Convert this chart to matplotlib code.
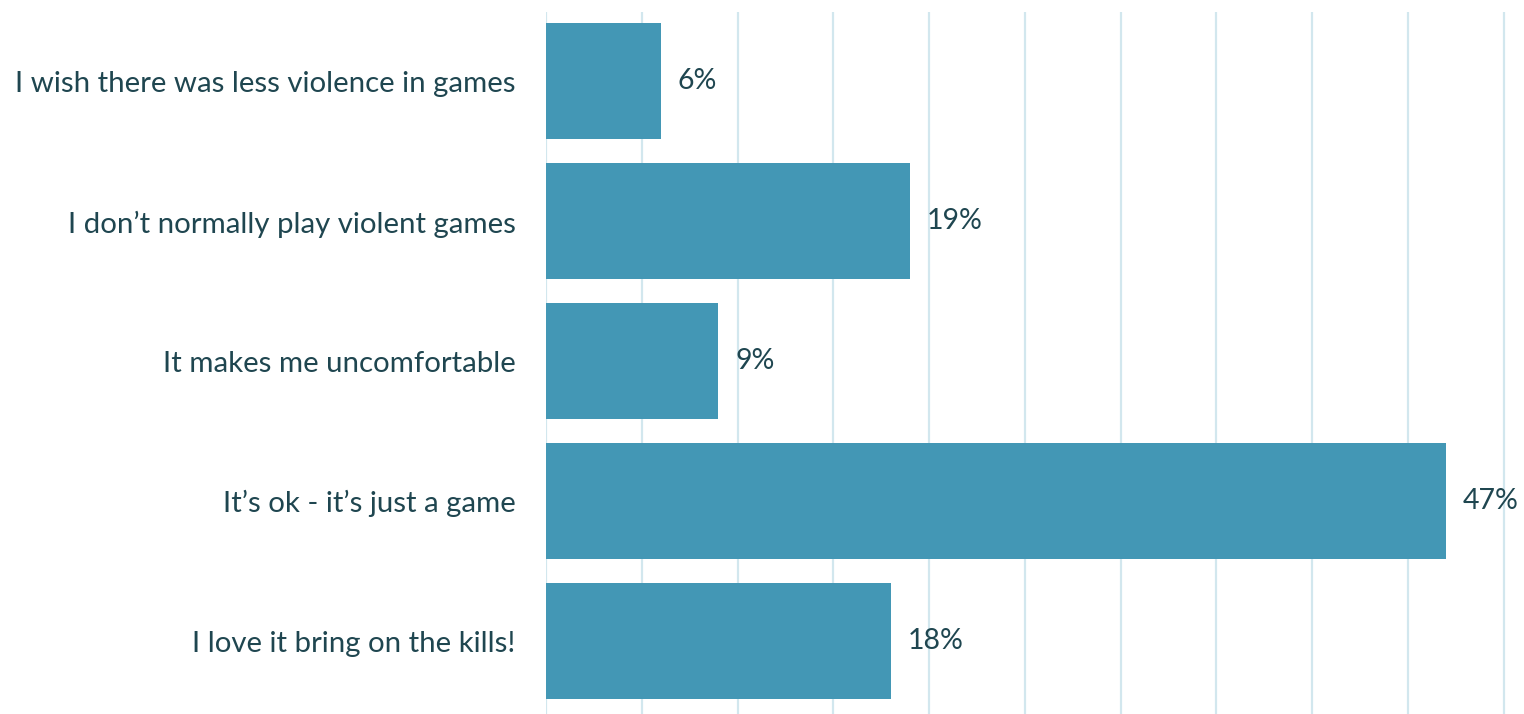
import matplotlib
matplotlib.use("Agg")
import matplotlib.pyplot as plt

# Survey answers, top to bottom
answers = [
    "I wish there was less violence in games",
    "I don\u2019t normally play violent games",
    "It makes me uncomfortable",
    "It\u2019s ok - it\u2019s just a game",
    "I love it bring on the kills!",
]
shares = [6, 19, 9, 47, 18]

bar_color = "#4397b5"
text_color = "#1f4650"
grid_color = "#d2e7ee"

plt.rcParams["font.family"] = ["Lato", "DejaVu Sans"]

fig = plt.figure(figsize=(15.24, 7.14), dpi=100)
ax = fig.add_axes([546 / 1524, 0.0, 1 - 546 / 1524, 1 - 12 / 714])

pos = list(range(len(answers)))
ax.barh(pos, shares, height=0.83, color=bar_color, zorder=3)

for y, v in zip(pos, shares):
    ax.annotate("%d%%" % v, xy=(v, y), xytext=(12, 0), textcoords="offset points",
                ha="left", va="center", fontsize=20.5, color=text_color)

ax.set_xlim(0, 51.07)
ax.set_ylim(4.52, -0.496)
ax.set_xticks(range(0, 51, 5))
ax.set_xticklabels([])
ax.grid(axis="x", color=grid_color, linewidth=1.6, zorder=0)
ax.tick_params(axis="x", length=0)

ax.set_yticks(pos)
ax.set_yticklabels(answers, fontsize=21.2, color=text_color)
ax.tick_params(axis="y", length=0, pad=22)

for s in ax.spines.values():
    s.set_visible(False)

fig.savefig("out.png", dpi=100)
